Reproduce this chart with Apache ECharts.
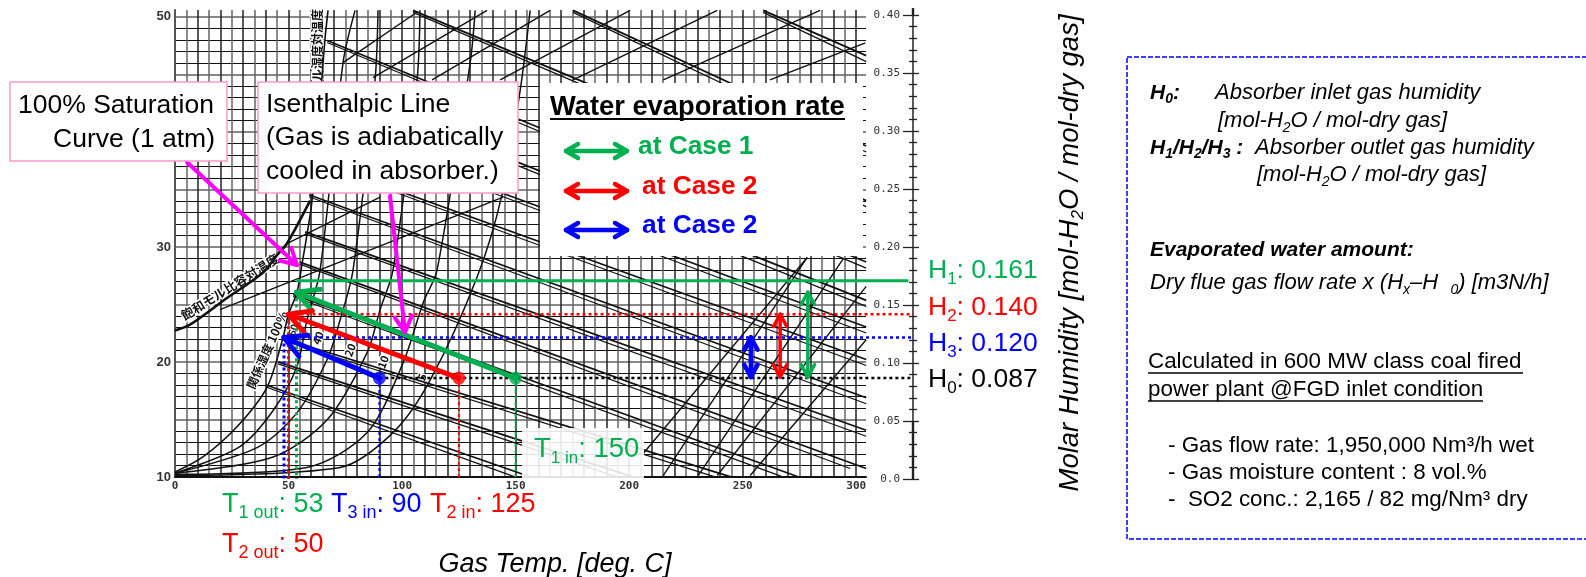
<!DOCTYPE html>
<html><head><meta charset="utf-8">
<style>html,body{margin:0;padding:0;background:#fff}#c{width:1586px;height:577px}</style>
<script src="https://cdn.jsdelivr.net/npm/echarts@6/dist/echarts.min.js"></script>
</head><body><div id="c"></div>
<script>
// ---- values: temperature [deg C], humidity [mol/mol]
const T_in = [150, 125, 90];
const T_out = [53.5, 50, 48];
const H_in = 0.087;
const H_out = [0.161, 0.142, 0.122];
const H_green_line = 0.171;
const T_rise = [278.7, 266.5, 253.6];
const x_end = 325;
const green_end = 323;
const xTickLabels = [0, 50, 100, 150, 200, 250, 300];
const leftTickLabels = [10, 20, 30, 40, 50];
// relative humidity curves
const rh100 = [[0,.006],[12.3,.019],[27.3,.045],[40.5,.079],[47.6,.122],[49.8,.141],[53.7,.161],[56,.186],[60.4,.241],[66,.378],[67.4,.404]];
const rh60 = [[0,.005],[28.6,.028],[43.2,.059],[53.7,.097],[58.1,.137],[63.9,.18],[74,.359],[79.3,.404]];
const rh40 = [[0,.005],[36.1,.027],[53.7,.057],[67,.103],[72.7,.137],[78.4,.18],[88.1,.344],[89.4,.404]];
const rh20 = [[0,.005],[43.2,.019],[67,.051],[84.6,.109],[90.3,.146],[96,.18],[106.6,.344],[107.9,.404]];
const rh10 = [[0,.004],[58.1,.01],[84.6,.04],[100.4,.1],[109.3,.152],[115.4,.18],[130,.359],[132.2,.404]];
const rh5 = [[0,.003],[72.7,.01],[96,.04],[112.3,.085],[133,.174],[144,.245],[152,.335],[156.4,.404]];
const satVolume = [[0,.128],[6.6,.133],[22.9,.156],[38.8,.178],[44.9,.193],[49.3,.203],[59.5,.24]];
// isenthalpic lines: t0,h0,t1,h1
const isenthalps = [[40.1,.081,156.4,.002],[45.4,.101,201.3,.002],[49.3,.12,244.5,.002],[52,.159,274.4,.002],
 [55,.187,304.4,.009],[57.3,.213,304.4,.042],[59,.245,304.4,.07],[60.8,.275,304.4,.103],[63,.305,304.4,.131],
 [64.8,.34,304.4,.154],[67,.378,304.4,.187],[104.8,.404,304.4,.24],[175.3,.404,304.4,.287],[259,.404,304.4,.365]];
// rising lines on the sheet
const risingLines = [[49.3,.203,90.3,.243],[19.8,.146,144.5,.243],[74,.359,107,.403],[87.2,.346,137.4,.404],
 [113.2,.344,165.2,.404],[143.2,.344,200.4,.404],[175.3,.344,238.8,.404],[215,.344,284.1,.404],[262,.344,304,.376],
 [215,.003,278.4,.191],[206.2,.022,278.4,.191],[230.4,.003,294.3,.19],[238.8,.003,304.4,.166],[253.3,.003,304.4,.12]];
const pointer1 = [5.3,.273,53.7,.1845];
const pointer2 = [94.7,.244,101.3,.1265];

const GREEN='#00B050', RED='#FF0000', BLUE='#0000FF', MAG='#FF00FF', PINK='#FF99CC';
const SANS='"Liberation Sans",Arial,sans-serif', CJK='"Noto Sans CJK JP",sans-serif', MONO='"DejaVu Sans Mono",monospace';

const chart = echarts.init(document.getElementById('c'));
const ov = {xAxisIndex:1,yAxisIndex:1,silent:true,animation:false};
function poly(name,data,color,width,type,z,smooth){
  return {...ov,type:'line',name,data,showSymbol:false,symbol:'none',clip:false,z:z||3,smooth:smooth||false,
    lineStyle:{color,width,type:type||'solid',cap:'butt',join:'round'}};
}
function segs(name,data,color,width,twin){
  return {...ov,type:'custom',name,data,clip:false,z:3,encode:{x:[0,2],y:[1,3]},
    renderItem(p,api){
      const a=api.coord([api.value(0),api.value(1)]), b=api.coord([api.value(2),api.value(3)]);
      const kids=[{type:'line',shape:{x1:a[0],y1:a[1],x2:b[0],y2:b[1]},style:{stroke:color,lineWidth:width}}];
      if(twin){
        const onBase=api.value(3)<0.01;
        kids.push({type:'line',shape:{x1:a[0],y1:a[1]+2,x2:onBase?b[0]-16:b[0],y2:onBase?b[1]:b[1]+6},style:{stroke:color,lineWidth:1.2}});
      }
      return {type:'group',children:kids};
    }};
}
function arrows(name,data,color,width,head,both){
  return {...ov,type:'custom',name,data,clip:false,z:6,encode:{x:[0,2],y:[1,3]},
    renderItem(p,api){
      const a=api.coord([api.value(0),api.value(1)]), b=api.coord([api.value(2),api.value(3)]);
      const st={stroke:color,lineWidth:width,lineCap:'round',fill:null};
      const kids=[{type:'line',shape:{x1:a[0],y1:a[1],x2:b[0],y2:b[1]},style:st}];
      const wing=(t,f)=>{const ang=Math.atan2(f[1]-t[1],f[0]-t[0]);
        [0.5,-0.5].forEach(d=>kids.push({type:'line',shape:{x1:t[0],y1:t[1],x2:t[0]+head*Math.cos(ang+d),y2:t[1]+head*Math.sin(ang+d)},style:st}));};
      wing(b,a); if(both) wing(a,b);
      return {type:'group',children:kids};
    }};
}
const dot=[3,3];
const arrowOf=i=>[[T_in[i],H_in,T_out[i],H_out[i]]];
const vArrow=i=>[[T_rise[i],H_in+.001,T_rise[i],H_out[i]]];

const series=[
  poly('RH 100%',rh100,'#111',1.6,null,3,0.3), poly('RH 60%',rh60,'#111',1.5,null,3,0.3), poly('RH 40%',rh40,'#111',1.5,null,3,0.3),
  poly('RH 20%',rh20,'#111',1.5,null,3,0.3), poly('RH 10%',rh10,'#111',1.5,null,3,0.3), poly('RH 5%',rh5,'#111',1.5,null,3,0.3),
  poly('Saturated molar volume',satVolume,'#111',2.6,null,3,0.3),
  segs('Isenthalps',isenthalps,'#111',1.7,true),
  segs('Rising lines',risingLines,'#111',1.4,false),
  segs('Right axis heavy',[[x_end,0,x_end,.05],[x_end,.4,x_end,.406]],'#222',2.4,false),
  poly('H0 level',[[T_in[2],H_in],[x_end,H_in]],'#000',2.5,dot,4),
  poly('H3 level',[[T_out[2],H_out[2]],[x_end,H_out[2]]],BLUE,2.5,dot,4),
  poly('H2 level',[[T_out[1],H_out[1]],[x_end,H_out[1]]],RED,2.5,dot,4),
  poly('H1 level',[[T_out[0],H_green_line],[green_end,H_green_line]],GREEN,3,'solid',4),
  poly('T1 in',[[T_in[0],H_in],[T_in[0],0]],GREEN,2,dot,4),
  poly('T2 in',[[T_in[1],H_in],[T_in[1],0]],RED,2,dot,4),
  poly('T3 in',[[T_in[2],H_in],[T_in[2],0]],BLUE,2,dot,4),
  poly('T1 out',[[T_out[0],H_out[0]],[T_out[0],0]],GREEN,3,dot,4),
  poly('T2 out',[[T_out[1],H_out[1]],[T_out[1],0]],RED,3,dot,4),
  poly('T3 out',[[T_out[2],H_out[2]],[T_out[2],0]],BLUE,3,dot,4),
  arrows('Case 1',arrowOf(0),GREEN,5,24), arrows('Case 2',arrowOf(1),RED,5,24), arrows('Case 3',arrowOf(2),BLUE,5,24),
  arrows('Rate 1',vArrow(0),GREEN,3.5,14,true), arrows('Rate 2',vArrow(1),RED,3.5,14,true), arrows('Rate 3',vArrow(2),BLUE,4.5,14,true),
  arrows('Pointer 1',[pointer1],MAG,4,18), arrows('Pointer 2',[pointer2],MAG,4,18),
  ...[0,1,2].map(i=>({...ov,type:'scatter',name:'Inlet '+i,data:[[T_in[i],H_in]],symbol:'circle',symbolSize:13,z:7,
     itemStyle:{color:[GREEN,RED,BLUE][i]}}))
];

// ---- annotations
const Z=100;
function text(x,y,t,opt){return {type:'text',z:Z,x,y,silent:true,rotation:opt&&opt.rotation||0,
  style:Object.assign({text:t,fontFamily:SANS,fontSize:26.5,fill:'#000',verticalAlign:'middle',align:'left'},opt&&opt.style)};}
function hline(x1,x2,y,w){return {type:'line',z:Z,silent:true,shape:{x1,y1:y,x2,y2:y},style:{stroke:'#000',lineWidth:w}};}
function box(x,y,w,h,stroke,lw,dash,fill){return {type:'rect',z:Z-1,silent:true,shape:{x,y,width:w,height:h},
  style:{fill:fill===undefined?'#fff':fill,stroke:stroke||null,lineWidth:lw||0,lineDash:dash||null}};}
function dbl(x0,x1,y,color){
  const st={stroke:color,lineWidth:4.5,lineCap:'round',lineJoin:'round',fill:null};
  const pl=p=>({type:'polyline',z:Z,silent:true,shape:{points:p},style:st});
  return [pl([[x0,y],[x1,y]]),pl([[x0+12,y-7],[x0,y],[x0+12,y+7]]),pl([[x1-12,y-7],[x1,y],[x1-12,y+7]])];
}
function subRich(color,size,sub){return {
  a:{fontFamily:SANS,fontSize:size,fill:color,color,lineHeight:size+8},
  s:{fontFamily:SANS,fontSize:sub,fill:color,color,lineHeight:sub+3,verticalAlign:'bottom'}};}
function labelT(x,y,t,color,size,sub){return text(x,y,t,{style:{rich:subRich(color,size||26,sub||17)}});}
function ital(sz,bold){return {fontFamily:SANS,fontStyle:'italic',fontWeight:bold?'bold':'normal',fontSize:sz,lineHeight:sz+6,fill:'#000'};}
function italSub(sz,bold){return {fontFamily:SANS,fontStyle:'italic',fontWeight:bold?'bold':'normal',fontSize:sz,lineHeight:sz+2,verticalAlign:'bottom',fill:'#000'};}
const panelRich={i:ital(22),b:ital(21,true),is:italSub(14),bs:italSub(14,true)};
const plain=(x,y,t)=>text(x,y,t,{style:{fontSize:22.4}});
const pt=(x,y,t)=>text(x,y,t,{style:{rich:panelRich}});
function cjk(x,y,t,deg,size){return {type:'text',z:3,x,y,silent:true,rotation:deg*Math.PI/180,
  style:{text:t,fontFamily:CJK,fontWeight:'bold',fontSize:size,fill:'#111',align:'center',verticalAlign:'middle',stroke:'#fff',lineWidth:3}};}

const graphic=[
  cjk(230,287,'飽和モル比容対温度',32,12.5), cjk(267,350,'関係湿度 100%',66,12), cjk(317,45,'ル湿度対温度',90,12),
  cjk(293,330,'60',70,10), cjk(318,338,'40',70,11), cjk(350,350,'20',70,11), cjk(383,362,'10',70,11), cjk(422,377,'5',70,11),
  // callouts
  box(10,82,217,79,PINK,1.5), text(18,106,'100% Saturation'), text(53,140,'Curve (1 atm)'),
  box(258,82,260,111,PINK,1.5), text(266,105,'Isenthalpic Line'), text(266,138,'(Gas is adiabatically'), text(266,172,'cooled in absorber.)'),
  // legend
  box(540,83,323,173), text(550,107,'Water evaporation rate',{style:{fontWeight:'bold',fontSize:27.3}}), hline(550,845,119,2),
  ...dbl(566,627,151,GREEN), ...dbl(566,627,191,RED), ...dbl(566,627,230,BLUE),
  text(638,147,'at Case 1',{style:{fontWeight:'bold',fontSize:26.3,fill:GREEN}}),
  text(642,187,'at Case 2',{style:{fontWeight:'bold',fontSize:26.3,fill:RED}}),
  text(642,226,'at Case 2',{style:{fontWeight:'bold',fontSize:26.3,fill:BLUE}}),
  // temperature labels
  box(522,428,122,52,null,0,null,'rgba(255,255,255,0.88)'),
  labelT(534,449,'{a|T}{s|1 in}{a|: 150}',GREEN,27.5,17),
  labelT(222,505,'{a|T}{s|1 out}{a|: 53}',GREEN,27,18),
  labelT(331,505,'{a|T}{s|3 in}{a|: 90}',BLUE,27,18),
  labelT(430,505,'{a|T}{s|2 in}{a|: 125}',RED,27,18),
  labelT(222,545,'{a|T}{s|2 out}{a|: 50}',RED,27,18),
  // humidity labels
  labelT(928,271,'{a|H}{s|1}{a|: 0.161}',GREEN,26.5,17),
  labelT(928,308,'{a|H}{s|2}{a|: 0.140}',RED,26.5,17),
  labelT(928,344,'{a|H}{s|3}{a|: 0.120}',BLUE,26.5,17),
  labelT(928,380,'{a|H}{s|0}{a|: 0.087}','#000',26.5,17),
  // right panel
  box(1127,57,480,482,BLUE,1.5,[5,2],null),
  pt(1150,93,'{b|H}{bs|0}{b|:}'), pt(1215,93,'{i|Absorber inlet gas humidity}'),
  pt(1218,121,'{i|[mol-H}{is|2}{i|O / mol-dry gas]}'),
  pt(1150,148,'{b|H}{bs|1}{b|/H}{bs|2}{b|/H}{bs|3}{b| :}'), pt(1255,148,'{i|Absorber outlet gas humidity}'),
  pt(1257,175,'{i|[mol-H}{is|2}{i|O / mol-dry gas]}'),
  pt(1150,250,'{b|Evaporated water amount:}'),
  pt(1150,283,'{i|Dry flue gas flow rate x (H}{is|x}{i|–H  }{is|0}{i|) [m3N/h]}'),
  plain(1148,362,'Calculated in 600 MW class coal fired'), hline(1148,1523,373,1.5),
  plain(1148,390,'power plant @FGD inlet condition'), hline(1148,1483,401,1.5),
  plain(1168,446,'- Gas flow rate: 1,950,000 Nm³/h wet'),
  plain(1168,473,'- Gas moisture content : 8 vol.%'),
  plain(1168,500,'-  SO2 conc.: 2,165 / 82 mg/Nm³ dry')
];

chart.setOption({
  animation:false, backgroundColor:'#fff',
  grid:[{left:175,top:10,width:691,height:467,outerBoundsMode:'none'},{left:175,top:15,width:738,height:464,outerBoundsMode:'none'}],
  xAxis:[
    {type:'value',gridIndex:0,min:0,max:304.3,interval:10,position:'bottom',
     axisLine:{onZero:false,lineStyle:{color:'#111',width:2}},axisTick:{show:false},
     axisLabel:{fontFamily:MONO,fontWeight:'bold',fontSize:11,color:'#333',margin:4,showMaxLabel:false,
       formatter:v=>xTickLabels.includes(v)?String(v):''},
     splitLine:{show:true,showMaxLine:false,lineStyle:{color:'#222',width:1.5}},
     minorTick:{show:false,splitNumber:2},minorSplitLine:{show:true,lineStyle:{color:'#666',width:1.5}}},
    {type:'value',gridIndex:1,min:0,max:x_end,position:'bottom',
     axisLine:{show:false,onZero:false},axisTick:{show:false},axisLabel:{show:false},splitLine:{show:false},
     name:'Gas Temp. [deg. C]',nameLocation:'middle',nameGap:72,
     nameTextStyle:{fontFamily:SANS,fontStyle:'italic',fontSize:27,color:'#000',padding:[0,0,0,22]}}
  ],
  yAxis:[
    {type:'value',gridIndex:0,min:10,max:50.6,interval:5,position:'left',
     axisLine:{show:true,onZero:false,lineStyle:{color:'#555',width:2}},axisTick:{show:false},
     axisLabel:{fontFamily:SANS,fontWeight:'bold',fontSize:13,color:'#333',margin:4,showMaxLabel:false,
       formatter:v=>leftTickLabels.includes(v)?String(v):''},
     splitLine:{show:true,showMinLine:false,showMaxLine:false,lineStyle:{color:'#888',width:2}},
     minorTick:{show:false,splitNumber:5},minorSplitLine:{show:true,lineStyle:{color:'#111',width:1.2}}},
    {type:'value',gridIndex:1,min:0,max:0.4,interval:0.05,position:'right',
     axisLine:{show:true,onZero:false,lineStyle:{color:'#222',width:1.5}},
     axisTick:{show:true,inside:true,length:10,lineStyle:{color:'#222',width:1.3}},
     minorTick:{show:true,splitNumber:5,length:4,lineStyle:{color:'#222',width:1.3}},
     axisLabel:{show:true,inside:true,margin:13,fontFamily:MONO,fontSize:11,color:'#333',
       formatter:v=>v===0?'0.0':v.toFixed(2)},
     splitLine:{show:false},
     name:'{a|Molar Humidity [mol-H}{s|2}{a|O / mol-dry gas]}',nameLocation:'middle',nameRotate:90,nameGap:140,
     nameTextStyle:{padding:[0,12,0,0],rich:{
       a:{fontFamily:SANS,fontStyle:'italic',fontSize:27.5,color:'#000',lineHeight:34},
       s:{fontFamily:SANS,fontStyle:'italic',fontSize:17,color:'#000',lineHeight:20,verticalAlign:'bottom'}}}},
    {type:'value',gridIndex:1,min:0,max:0.4,interval:0.05,position:'right',
     axisLine:{show:false,onZero:false},
     axisTick:{show:true,length:6,lineStyle:{color:'#222',width:1.3}},
     minorTick:{show:true,splitNumber:5,length:4,lineStyle:{color:'#222',width:1.3}},
     axisLabel:{show:false},splitLine:{show:false}}
  ],
  series, graphic
});
</script></body></html>
